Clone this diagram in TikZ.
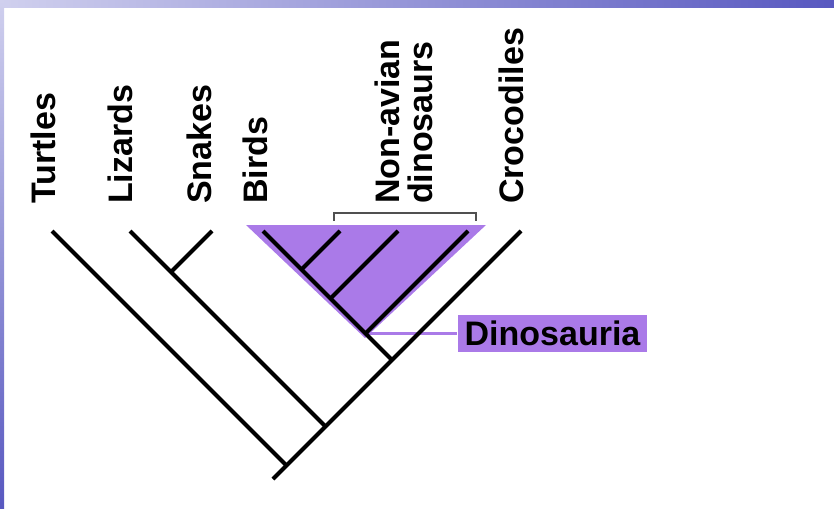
\documentclass[tikz,border=0pt]{standalone}
\usepackage{fontspec}
\setmainfont{Liberation Sans}

\definecolor{clade}{RGB}{170,122,232}
\definecolor{slideblue}{RGB}{88,88,192}
\definecolor{slidelight}{RGB}{208,208,238}
\definecolor{bracketgray}{RGB}{80,80,80}

\tikzset{
  taxon/.style={rotate=90,anchor=base west,inner sep=0pt,
    font=\bfseries\fontsize{34}{34}\selectfont},
  branch/.style={draw,line width=4.2pt}
}

\begin{document}
\begin{tikzpicture}[x=1pt,y=-1pt]

      \useasboundingbox (0,0) rectangle (834,508);
      \shade[left color=slidelight,right color=slideblue] (0,0) rectangle (834,7.5);
      \shade[top color=slidelight,bottom color=slideblue] (0,0) rectangle (4,508);

      % tips
      \coordinate (t1) at (52,231);
      \coordinate (t2) at (130,231);
      \coordinate (t3) at (212,231);
      \coordinate (t4) at (263,231);
      \coordinate (t5) at (340,231);
      \coordinate (t6) at (398,231);
      \coordinate (t7) at (468,231);
      \coordinate (t8) at (521,231);

      % junctions
      \coordinate (j1) at (325.5,426.5);
      \coordinate (j2) at (171,272);
      \coordinate (j3) at (392,360);
      \coordinate (j4) at (301.5,269.5);
      \coordinate (j5) at (330.5,298.5);
      \coordinate (j6) at (365.5,333.5);
      \coordinate (root) at (286.5,465.5);
      \coordinate (stem) at (273,479);

      \begin{scope}[every node/.style={taxon}]
        \node (turtles) at (55,204)  {Turtles};
        \node (lizards) at (132,204) {Lizards};
        \node (snakes)  at (211,204) {Snakes};
        \node (birds)   at (267,204) {Birds};
        \node (nonav)   at (399,204) {Non-avian};
        \node (dinos)   at (432,204) {dinosaurs};
        \node (crocs)   at (523,204) {Crocodiles};
      \end{scope}

      % Dinosauria clade
      \fill[clade] (246,225) -- (486,225) -- (365,338) -- cycle;
      \draw[bracketgray,line width=2pt] (334,221) -- (334,213) -- (476,213) -- (476,221);

      \node[fill=clade,inner xsep=7pt,inner ysep=0pt,minimum height=37pt,
        font=\bfseries\fontsize{34}{34}\selectfont] (dinosauria) at (552.5,333.5) {Dinosauria};
      \draw[clade,line width=3pt] (j6) -- (dinosauria.west);

      \begin{scope}[every path/.style={branch}]
        \path (t1) -- (root);
        \path (t2) -- (j1);
        \path (t3) -- (j2);
        \path (t4) -- (j3);
        \path (t5) -- (j4);
        \path (t6) -- (j5);
        \path (t7) -- (j6);
        \path (t8) -- (stem);
      \end{scope}

\end{tikzpicture}
\end{document}
